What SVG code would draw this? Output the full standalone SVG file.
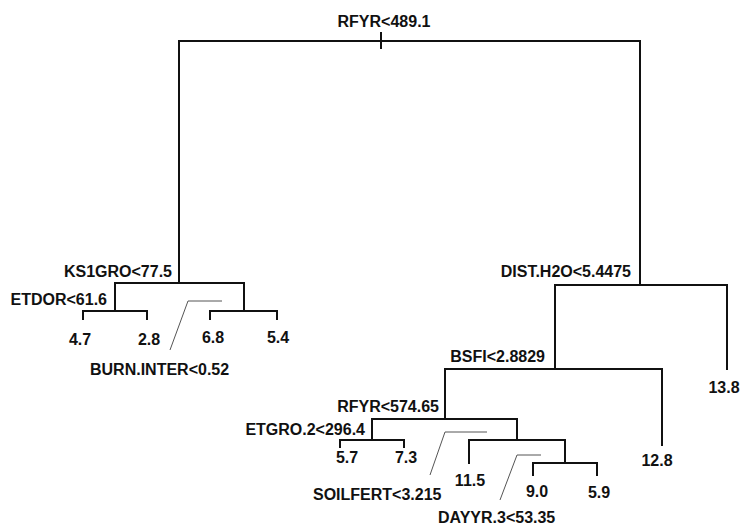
<svg xmlns="http://www.w3.org/2000/svg" width="743" height="526" viewBox="0 0 743 526">
<style>
.e{fill:none;stroke:#111;stroke-width:2;stroke-linecap:square}
.d{fill:none;stroke:#555;stroke-width:1}
text{font-family:"Liberation Sans",Arial,sans-serif;font-weight:bold;font-size:16px;fill:#111}
.m{text-anchor:middle}
.r{text-anchor:end}
</style>
<rect width="743" height="526" fill="#fff"/>
<g id="connectors">
<path class="e" d="M179,283 V41 H640 V285"/>
<path class="e" d="M381,33 V48"/>
<path class="e" d="M115,311 V283 H244 V311"/>
<path class="e" d="M83,319 V311 H147 V319"/>
<path class="e" d="M210,319 V311 H277 V319"/>
<path class="d" d="M170,350 L188,301 H222"/>
<path class="e" d="M555,369 V285 H727 V369"/>
<path class="e" d="M445,418 V369 H662 V445"/>
<path class="e" d="M372,440 V419 H517 V440"/>
<path class="e" d="M340,447 V440 H404 V447"/>
<path class="e" d="M469,463 V440 H565 V463"/>
<path class="e" d="M533,475 V463 H597 V475"/>
<path class="d" d="M430,475 L445,432 H487"/>
<path class="d" d="M500,500 L517,455 H541"/>
</g>
<g id="n_root"><text class="m" x="384" y="27">RFYR&lt;489.1</text></g>
<g id="n_ks1gro"><text class="r" x="172" y="277">KS1GRO&lt;77.5</text></g>
<g id="n_etdor"><text class="r" x="107" y="305">ETDOR&lt;61.6</text></g>
<g id="n_l47"><text class="m" x="80" y="345">4.7</text></g>
<g id="n_l28"><text class="m" x="149" y="345">2.8</text></g>
<g id="n_burn"><text x="90" y="375">BURN.INTER&lt;0.52</text></g>
<g id="n_l68"><text class="m" x="213" y="343">6.8</text></g>
<g id="n_l54"><text class="m" x="278" y="343">5.4</text></g>
<g id="n_dist"><text class="r" x="631" y="277">DIST.H2O&lt;5.4475</text></g>
<g id="n_l138"><text class="m" x="724" y="393">13.8</text></g>
<g id="n_bsfi"><text class="r" x="545" y="362">BSFI&lt;2.8829</text></g>
<g id="n_l128"><text class="m" x="657" y="466">12.8</text></g>
<g id="n_rfyr2"><text class="r" x="439" y="412">RFYR&lt;574.65</text></g>
<g id="n_etgro"><text class="r" x="365" y="435">ETGRO.2&lt;296.4</text></g>
<g id="n_l57"><text class="m" x="347" y="463">5.7</text></g>
<g id="n_l73"><text class="m" x="406" y="463">7.3</text></g>
<g id="n_soil"><text x="313" y="500">SOILFERT&lt;3.215</text></g>
<g id="n_l115"><text class="m" x="470" y="486">11.5</text></g>
<g id="n_l90"><text class="m" x="537" y="497">9.0</text></g>
<g id="n_l59"><text class="m" x="599" y="498">5.9</text></g>
<g id="n_dayyr"><text x="438" y="523">DAYYR.3&lt;53.35</text></g>
</svg>
